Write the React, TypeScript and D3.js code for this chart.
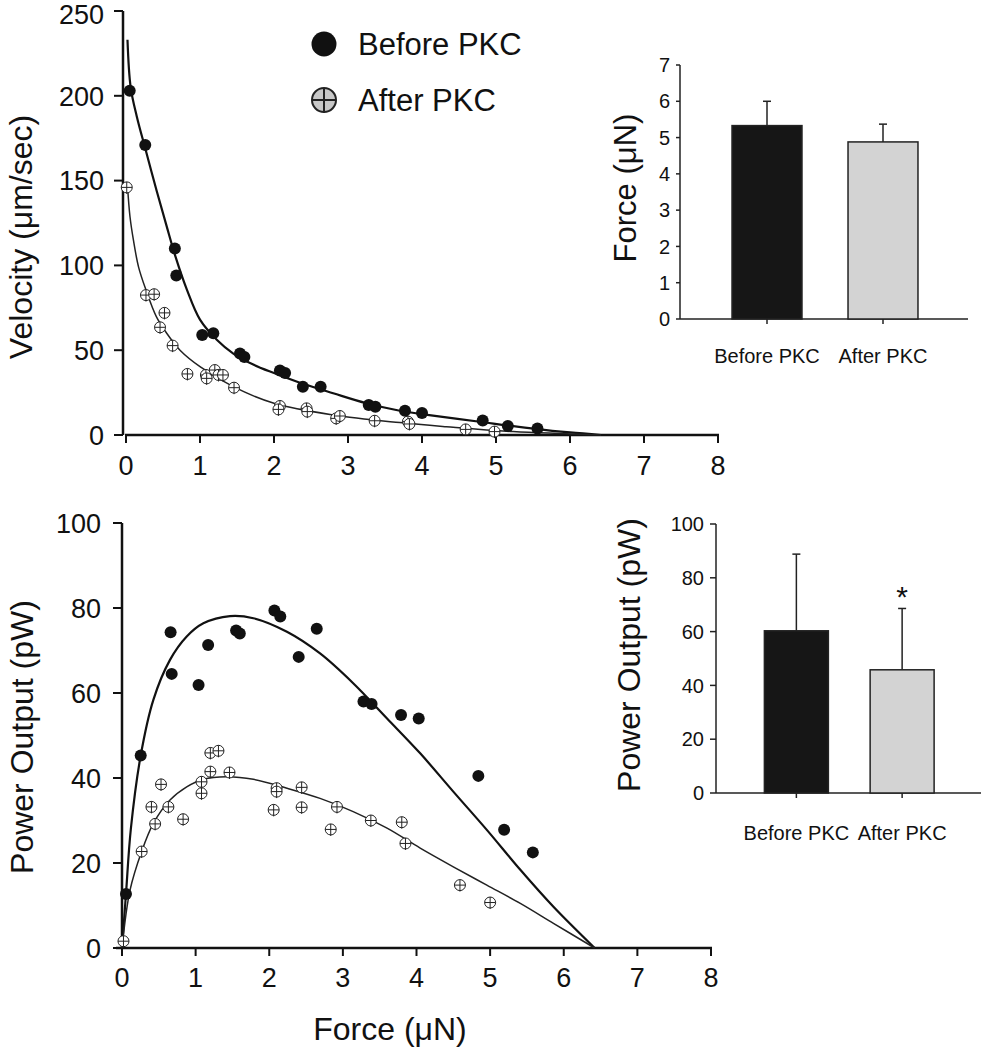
import React from "react";
import * as d3 from "d3";

// ---------- DATA ----------
// Top panel: velocity vs force
const velBeforeForce = [0.05, 0.26, 0.66, 0.68, 1.03, 1.18, 1.54, 1.6, 2.08, 2.15, 2.39, 2.63, 3.28, 3.37, 3.77, 4.0, 4.82, 5.16, 5.56];
const velBeforeValue = [203, 171, 110, 94, 59, 60, 48, 46, 38, 36.5, 28.5, 28.5, 17.7, 16.7, 14.3, 13, 8.5, 5.3, 3.9];
const velAfterForce = [0.01, 0.27, 0.38, 0.52, 0.46, 0.63, 0.83, 1.08, 1.09, 1.2, 1.25, 1.31, 1.46, 2.08, 2.06, 2.44, 2.45, 2.84, 2.89, 3.36, 3.81, 3.83, 4.59, 4.98];
const velAfterValue = [146, 82.5, 83, 72, 63.5, 52.7, 36, 35.4, 33.4, 38.3, 35.4, 35.4, 27.9, 17.1, 15.1, 15.7, 13.8, 9.8, 11.2, 8.4, 7.9, 6.5, 3.3, 2];

// fitted curves
const velFitBeforeForce = [0.02, 0.063, 0.145, 0.266, 0.414, 0.55, 0.67, 0.82, 1.0, 1.23, 1.45, 1.72, 2.0, 2.35, 2.8, 3.25, 3.7, 3.97, 4.78, 5.55, 6.0, 6.42];
const velFitBeforeValue = [233, 205, 188, 168, 144, 123, 105, 86, 68, 56, 48, 41.5, 36.5, 30.8, 24.6, 18.7, 14.3, 12.5, 7.8, 3.5, 1.5, 0];
const velFitAfterForce = [0.02, 0.054, 0.1, 0.17, 0.27, 0.41, 0.55, 0.73, 1.0, 1.45, 2.0, 2.8, 3.7, 4.33, 5.23, 6.42];
const velFitAfterValue = [147, 128.7, 115, 99, 85.5, 69.8, 60, 50, 40.3, 28.5, 18.7, 11.8, 7.3, 4.9, 2, 0];

// Bottom panel: power vs force
const powBeforeForce = [0.054, 0.254, 0.66, 0.675, 1.04, 1.17, 1.55, 1.6, 2.07, 2.15, 2.4, 2.645, 3.28, 3.39, 3.79, 4.03, 4.84, 5.19, 5.58];
const powBeforeValue = [12.7, 45.3, 74.3, 64.5, 61.9, 71.3, 74.7, 74.0, 79.4, 78.0, 68.5, 75.1, 58.0, 57.4, 54.8, 54.0, 40.5, 27.8, 22.5];
const powAfterForce = [0.02, 0.267, 0.4, 0.45, 0.53, 0.63, 0.83, 1.08, 1.08, 1.2, 1.2, 1.31, 1.46, 2.06, 2.1, 2.1, 2.44, 2.44, 2.835, 2.92, 3.38, 3.8, 3.85, 4.59, 5.0];
const powAfterValue = [1.6, 22.7, 33.2, 29.2, 38.5, 33.2, 30.3, 39.1, 36.4, 41.5, 45.9, 46.4, 41.3, 32.5, 37.6, 36.8, 37.8, 33.1, 27.9, 33.2, 30.0, 29.6, 24.6, 14.8, 10.7];

const powFitBeforeForce = [0, 0.054, 0.12, 0.254, 0.426, 0.652, 0.879, 1.105, 1.467, 1.784, 2.24, 2.69, 3.14, 3.6, 4.05, 4.5, 4.955, 5.41, 5.86, 6.42];
const powFitBeforeValue = [0, 12.7, 28, 45.3, 58.4, 67.8, 73.3, 76.4, 78.1, 77.6, 74.4, 69.3, 62.3, 54.0, 45.8, 36.8, 27.8, 18.4, 9.7, 0];
const powFitAfterForce = [0, 0.109, 0.267, 0.426, 0.652, 0.879, 1.105, 1.42, 1.784, 2.24, 2.69, 3.14, 3.6, 4.05, 4.5, 4.955, 5.41, 5.86, 6.42];
const powFitAfterValue = [0, 13.6, 22.7, 29.3, 34.8, 37.9, 39.7, 40.3, 39.7, 37.6, 35.2, 32.1, 28.2, 23.5, 19.1, 14.8, 10.5, 5.8, 0];

// Insets
const groups = ["Before PKC", "After PKC"];
const forceMeans = [5.33, 4.88];
const forceErrors = [0.67, 0.49];
const powerMeans = [60.3, 45.8];
const powerErrors = [28.5, 22.8];

const forceTicks = [0, 1, 2, 3, 4, 5, 6, 7];
const powerInsetTicks = [0, 20, 40, 60, 80, 100];
const velocityTicks = [0, 50, 100, 150, 200, 250];
const powerTicks = [0, 20, 40, 60, 80, 100];
const forceAxisTicks = [0, 1, 2, 3, 4, 5, 6, 7, 8];

const FONT = "'Liberation Sans', Arial, Helvetica, sans-serif";
const INK = "#111";

const zip = (xs: number[], ys: number[]) => xs.map((x, i) => [x, ys[i]] as [number, number]);

function FilledDot({ cx, cy, r }: { cx: number; cy: number; r: number }) {
  return <circle cx={cx} cy={cy} r={r} fill="#111" />;
}
function CrossDot({ cx, cy, r, fill, sw }: { cx: number; cy: number; r: number; fill: string; sw: number }) {
  return (
    <g>
      <circle cx={cx} cy={cy} r={r} fill={fill} stroke="#222" strokeWidth={sw} />
      <line x1={cx - r} x2={cx + r} y1={cy} y2={cy} stroke="#222" strokeWidth={sw} />
      <line x1={cx} x2={cx} y1={cy - r} y2={cy + r + 1} stroke="#222" strokeWidth={sw} />
    </g>
  );
}

export default function App() {
  // scales
  const xTop = d3.scaleLinear().domain([0, 8]).range([126, 718]);
  const yTop = d3.scaleLinear().domain([0, 250]).range([435, 11]);
  const xBot = d3.scaleLinear().domain([0, 8]).range([122, 711]);
  const yBot = d3.scaleLinear().domain([0, 100]).range([948, 523]);

  const xIn1 = d3.scaleBand().domain(groups).range([709, 941]).paddingInner(0.397).paddingOuter(0.1985);
  const yIn1 = d3.scaleLinear().domain([0, 7]).range([319, 65]);
  const xIn2 = d3.scaleBand().domain(groups).range([743.5, 955]).paddingInner(0.395).paddingOuter(0.1975);
  const yIn2 = d3.scaleLinear().domain([0, 100]).range([793, 524]);

  const lineTop = d3
    .line<[number, number]>()
    .x((d) => xTop(d[0]))
    .y((d) => yTop(d[1]))
    .curve(d3.curveCatmullRom.alpha(0.5));
  const lineBot = d3
    .line<[number, number]>()
    .x((d) => xBot(d[0]))
    .y((d) => yBot(d[1]))
    .curve(d3.curveCatmullRom.alpha(0.5));

  const tickFont = 27;
  const titleFont = 32;
  const insetTick = 20;

  return (
    <svg
      width={983}
      height={1050}
      style={{ position: "absolute", left: 0, top: 0, background: "#fff" }}
      fontFamily={FONT}
    >
      <rect x={0} y={0} width={983} height={1050} fill="#fff" />

      {/* ===== TOP PANEL ===== */}
      <g>
        <line x1={123} x2={123} y1={yTop(250)} y2={yTop(0)} stroke={INK} strokeWidth={2.5} />
        {velocityTicks.map((t) => (
          <g key={t}>
            <line x1={114} x2={123} y1={yTop(t)} y2={yTop(t)} stroke={INK} strokeWidth={2} />
            <text x={104} y={yTop(t) + (t === 250 ? 3 : 0)} dy="0.36em" textAnchor="end" fontSize={tickFont} fill={INK}>
              {t}
            </text>
          </g>
        ))}
        <line x1={125} x2={xTop(8) + 1} y1={435} y2={435} stroke={INK} strokeWidth={2.5} />
        {forceAxisTicks.map((t) => (
          <g key={t}>
            <line x1={xTop(t)} x2={xTop(t)} y1={435} y2={443} stroke={INK} strokeWidth={2} />
            <text x={xTop(t)} y={465} dy="0.36em" textAnchor="middle" fontSize={tickFont} fill={INK}>
              {t}
            </text>
          </g>
        ))}
        <text transform={`translate(32, 237) rotate(-90)`} textAnchor="middle" fontSize={titleFont} fill={INK}>
          Velocity (μm/sec)
        </text>

        <path d={lineTop(zip(velFitBeforeForce, velFitBeforeValue)) || ""} fill="none" stroke="#111" strokeWidth={2.2} />
        <path d={lineTop(zip(velFitAfterForce, velFitAfterValue)) || ""} fill="none" stroke="#222" strokeWidth={1.5} />

        {zip(velAfterForce, velAfterValue).map((d, i) => (
          <CrossDot key={"va" + i} cx={xTop(d[0])} cy={yTop(d[1])} r={5.5} fill="#fff" sw={1} />
        ))}
        {zip(velBeforeForce, velBeforeValue).map((d, i) => (
          <FilledDot key={"vb" + i} cx={xTop(d[0])} cy={yTop(d[1])} r={6} />
        ))}

        {/* legend */}
        <circle cx={324} cy={44} r={12.5} fill="#111" />
        <text x={358} y={55} fontSize={31} fill={INK}>
          Before PKC
        </text>
        <CrossDot cx={324} cy={100} r={12} fill="#c8c8c8" sw={2} />
        <text x={358} y={111} fontSize={31} fill={INK}>
          After PKC
        </text>
      </g>

      {/* ===== INSET 1: Force ===== */}
      <g>
        <line x1={680} x2={680} y1={yIn1(7)} y2={yIn1(0)} stroke="#222" strokeWidth={1.5} />
        {forceTicks.map((t) => (
          <g key={t}>
            <line x1={676} x2={680} y1={yIn1(t)} y2={yIn1(t)} stroke="#222" strokeWidth={1.5} />
            <text x={670} y={yIn1(t)} dy="0.36em" textAnchor="end" fontSize={insetTick} fill={INK}>
              {t}
            </text>
          </g>
        ))}
        <line x1={680} x2={968} y1={yIn1(0)} y2={yIn1(0)} stroke="#222" strokeWidth={1.5} />
        {groups.map((g, i) => {
          const x0 = xIn1(g)!;
          const bw = xIn1.bandwidth();
          const cx = x0 + bw / 2;
          return (
            <g key={g}>
              <line x1={cx} x2={cx} y1={yIn1(forceMeans[i])} y2={yIn1(forceMeans[i] + forceErrors[i])} stroke="#222" strokeWidth={1.5} />
              <line x1={cx - 4} x2={cx + 4} y1={yIn1(forceMeans[i] + forceErrors[i])} y2={yIn1(forceMeans[i] + forceErrors[i])} stroke="#222" strokeWidth={1.5} />
              <rect
                x={x0}
                y={yIn1(forceMeans[i])}
                width={bw}
                height={yIn1(0) - yIn1(forceMeans[i])}
                fill={i === 0 ? "#161616" : "#d3d3d3"}
                stroke="#222"
                strokeWidth={1.5}
              />
              <line x1={cx} x2={cx} y1={yIn1(0)} y2={yIn1(0) + 5} stroke="#222" strokeWidth={1.5} />
              <text x={cx} y={363} textAnchor="middle" fontSize={20} fill={INK}>
                {g}
              </text>
            </g>
          );
        })}
        <text transform={`translate(636, 188) rotate(-90)`} textAnchor="middle" fontSize={31} fill={INK}>
          Force (μN)
        </text>
      </g>

      {/* ===== BOTTOM PANEL ===== */}
      <g>
        <line x1={122} x2={122} y1={yBot(100)} y2={yBot(0)} stroke={INK} strokeWidth={2.5} />
        {powerTicks.map((t) => (
          <g key={t}>
            <line x1={113} x2={122} y1={yBot(t)} y2={yBot(t)} stroke={INK} strokeWidth={2} />
            <text x={101} y={yBot(t)} dy="0.36em" textAnchor="end" fontSize={tickFont} fill={INK}>
              {t}
            </text>
          </g>
        ))}
        <line x1={116} x2={xBot(8) + 1} y1={948} y2={948} stroke={INK} strokeWidth={2.5} />
        {forceAxisTicks.map((t) => (
          <g key={t}>
            <line x1={xBot(t)} x2={xBot(t)} y1={948} y2={956} stroke={INK} strokeWidth={2} />
            <text x={xBot(t)} y={977} dy="0.36em" textAnchor="middle" fontSize={tickFont} fill={INK}>
              {t}
            </text>
          </g>
        ))}
        <text x={390} y={1040} textAnchor="middle" fontSize={titleFont} fill={INK}>
          Force (μN)
        </text>
        <text transform={`translate(33, 737) rotate(-90)`} textAnchor="middle" fontSize={titleFont} fill={INK}>
          Power Output (pW)
        </text>

        <path d={lineBot(zip(powFitBeforeForce, powFitBeforeValue)) || ""} fill="none" stroke="#111" strokeWidth={2.2} />
        <path d={lineBot(zip(powFitAfterForce, powFitAfterValue)) || ""} fill="none" stroke="#222" strokeWidth={1.5} />

        {zip(powAfterForce, powAfterValue).map((d, i) => (
          <CrossDot key={"pa" + i} cx={xBot(d[0])} cy={yBot(d[1])} r={5.5} fill="#fff" sw={1} />
        ))}
        {zip(powBeforeForce, powBeforeValue).map((d, i) => (
          <FilledDot key={"pb" + i} cx={xBot(d[0])} cy={yBot(d[1])} r={6} />
        ))}
      </g>

      {/* ===== INSET 2: Power ===== */}
      <g>
        <line x1={716} x2={716} y1={yIn2(100)} y2={yIn2(0)} stroke="#222" strokeWidth={1.5} />
        {powerInsetTicks.map((t) => (
          <g key={t}>
            <line x1={710} x2={716} y1={yIn2(t)} y2={yIn2(t)} stroke="#222" strokeWidth={1.5} />
            <text x={704} y={yIn2(t)} dy="0.36em" textAnchor="end" fontSize={insetTick} fill={INK}>
              {t}
            </text>
          </g>
        ))}
        <line x1={716} x2={981} y1={yIn2(0)} y2={yIn2(0)} stroke="#222" strokeWidth={1.5} />
        {groups.map((g, i) => {
          const x0 = xIn2(g)!;
          const bw = xIn2.bandwidth();
          const cx = x0 + bw / 2;
          const top = powerMeans[i] + powerErrors[i];
          return (
            <g key={g}>
              <line x1={cx} x2={cx} y1={yIn2(powerMeans[i])} y2={yIn2(top)} stroke="#222" strokeWidth={1.5} />
              <line x1={cx - 4} x2={cx + 4} y1={yIn2(top)} y2={yIn2(top)} stroke="#222" strokeWidth={1.5} />
              <rect
                x={x0}
                y={yIn2(powerMeans[i])}
                width={bw}
                height={yIn2(0) - yIn2(powerMeans[i])}
                fill={i === 0 ? "#161616" : "#d3d3d3"}
                stroke="#222"
                strokeWidth={1.5}
              />
              <line x1={cx} x2={cx} y1={yIn2(0)} y2={yIn2(0) + 5} stroke="#222" strokeWidth={1.5} />
              <text x={cx} y={840} textAnchor="middle" fontSize={20} fill={INK}>
                {g}
              </text>
              {i === 1 && (
                <text x={cx} y={607} textAnchor="middle" fontSize={30} fill={INK}>
                  *
                </text>
              )}
            </g>
          );
        })}
        <text transform={`translate(640, 655) rotate(-90)`} textAnchor="middle" fontSize={32} fill={INK}>
          Power Output (pW)
        </text>
      </g>
    </svg>
  );
}
